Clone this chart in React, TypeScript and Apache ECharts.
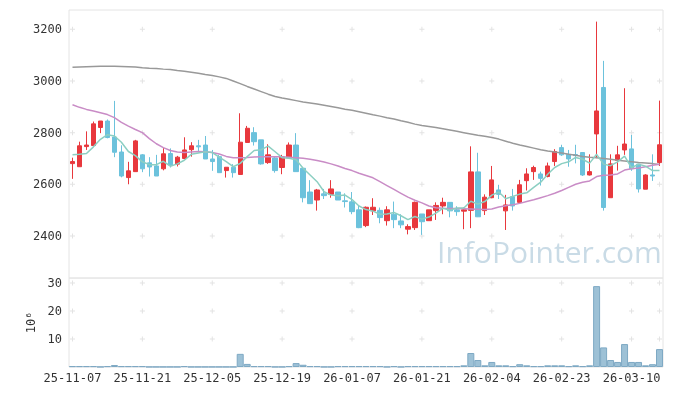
import React, { useEffect, useRef } from 'react';
import * as echarts from 'echarts';

const dates = [
  '25-11-07','25-11-10','25-11-11','25-11-12','25-11-13','25-11-14','25-11-17','25-11-18','25-11-19','25-11-20',
  '25-11-21','25-11-24','25-11-25','25-11-26','25-11-27','25-11-28','25-12-01','25-12-02','25-12-03','25-12-04',
  '25-12-05','25-12-08','25-12-09','25-12-10','25-12-11','25-12-12','25-12-15','25-12-16','25-12-17','25-12-18',
  '25-12-19','25-12-22','25-12-23','25-12-24','25-12-26','25-12-29','25-12-30','26-01-02','26-01-05','26-01-06',
  '26-01-07','26-01-08','26-01-09','26-01-12','26-01-13','26-01-14','26-01-15','26-01-16','26-01-19','26-01-20',
  '26-01-21','26-01-22','26-01-23','26-01-26','26-01-27','26-01-28','26-01-29','26-01-30','26-02-02','26-02-03',
  '26-02-04','26-02-05','26-02-06','26-02-09','26-02-10','26-02-11','26-02-12','26-02-13','26-02-19','26-02-20',
  '26-02-23','26-02-24','26-02-25','26-02-26','26-02-27','26-03-03','26-03-04','26-03-05','26-03-06','26-03-09',
  '26-03-10','26-03-11','26-03-12','26-03-13','26-03-16'
];

const opens = [
  2680,2668,2746,2750,2820,2845,2783,2725,2626,2649,
  2714,2683,2671,2660,2719,2678,2700,2734,2749,2752,
  2698,2707,2653,2666,2638,2762,2800,2772,2684,2702,
  2665,2703,2752,2662,2570,2539,2563,2561,2570,2536,
  2532,2501,2440,2497,2499,2459,2484,2458,2426,2432,
  2485,2459,2498,2516,2530,2501,2496,2499,2648,2498,
  2548,2578,2497,2552,2530,2614,2649,2640,2630,2688,
  2742,2716,2715,2723,2636,2795,2975,2548,2692,2733,
  2737,2678,2581,2636,2684
];
const closes = [
  2688,2749,2752,2834,2845,2781,2724,2632,2652,2768,
  2660,2667,2632,2718,2675,2705,2733,2749,2745,2698,
  2688,2645,2666,2645,2763,2817,2765,2679,2714,2653,
  2706,2752,2649,2548,2525,2578,2556,2582,2539,2533,
  2494,2432,2511,2511,2471,2501,2463,2443,2436,2530,
  2455,2501,2518,2530,2497,2494,2501,2648,2474,2550,
  2617,2561,2520,2516,2598,2640,2665,2623,2671,2727,
  2714,2698,2711,2636,2649,2884,2510,2679,2714,2756,
  2660,2582,2636,2632,2753
];
const lows = [
  2621,2668,2733,2749,2798,2778,2705,2627,2600,2649,
  2647,2630,2632,2654,2665,2669,2697,2707,2724,2698,
  2652,2645,2626,2626,2636,2761,2750,2676,2679,2645,
  2639,2701,2649,2530,2525,2498,2543,2548,2539,2510,
  2484,2430,2434,2481,2449,2440,2430,2430,2406,2423,
  2404,2459,2462,2484,2472,2478,2426,2430,2473,2481,
  2546,2543,2423,2498,2530,2576,2617,2595,2627,2671,
  2710,2668,2681,2632,2634,2701,2498,2548,2653,2714,
  2652,2568,2581,2613,2671
];
const highs = [
  2703,2765,2805,2843,2845,2851,2923,2751,2687,2772,
  2717,2705,2714,2740,2739,2710,2782,2763,2772,2787,
  2733,2714,2666,2678,2875,2826,2821,2772,2755,2707,
  2714,2762,2798,2662,2616,2582,2582,2616,2570,2565,
  2570,2517,2514,2546,2510,2515,2533,2484,2445,2533,
  2485,2501,2530,2548,2530,2515,2510,2747,2722,2561,
  2671,2598,2559,2582,2617,2662,2672,2649,2684,2736,
  2753,2733,2753,2723,2716,3230,3078,2716,2749,2972,
  2791,2678,2639,2716,2924
];

const ma5 = [
  2714,2716,2719,2745,2774,2792,2787,2763,2727,2711,
  2687,2676,2676,2689,2670,2679,2693,2716,2721,2726,
  2723,2705,2688,2668,2681,2707,2731,2734,2748,2726,
  2703,2701,2695,2662,2636,2610,2571,2558,2556,2558,
  2541,2516,2502,2496,2484,2485,2491,2478,2463,2475,
  2465,2473,2488,2507,2500,2508,2508,2534,2523,2533,
  2558,2570,2544,2553,2562,2567,2588,2608,2639,2665,
  2680,2687,2704,2697,2682,2716,2678,2672,2687,2709,
  2664,2678,2670,2653,2653
];
const ma20 = [
  2908,2898,2890,2884,2877,2870,2858,2840,2825,2812,
  2800,2777,2757,2742,2731,2725,2723,2725,2727,2726,
  2723,2717,2708,2703,2703,2704,2706,2707,2707,2707,
  2707,2705,2703,2701,2697,2692,2686,2679,2671,2661,
  2653,2643,2634,2625,2610,2595,2580,2565,2550,2538,
  2528,2516,2509,2507,2506,2506,2505,2504,2503,2502,
  2504,2512,2517,2521,2526,2533,2540,2548,2556,2565,
  2576,2588,2600,2608,2613,2630,2635,2636,2640,2655,
  2660,2663,2668,2674,2678
];
const ma60 = [
  3053,3054,3055,3056,3057,3057,3057,3056,3055,3054,
  3051,3049,3048,3046,3045,3041,3038,3034,3030,3025,
  3021,3016,3010,3000,2990,2979,2969,2959,2949,2940,
  2934,2929,2924,2919,2915,2911,2906,2901,2896,2891,
  2887,2881,2875,2869,2864,2858,2853,2846,2840,2833,
  2828,2824,2820,2815,2810,2805,2800,2795,2790,2786,
  2781,2775,2767,2759,2752,2746,2740,2734,2729,2725,
  2721,2716,2712,2708,2705,2703,2700,2697,2693,2690,
  2687,2684,2682,2680,2677
];

// volume in millions of shares
const volumes = [
  0.3,0.3,0.3,0.3,0.05,0.3,0.7,0.3,0.3,0.3,
  0.3,0.05,0.05,0.05,0.05,0.05,0.3,0.05,0.05,0.05,
  0.05,0.05,0.05,0.05,4.7,1.1,0.3,0.3,0.3,0.05,
  0.05,0.3,1.4,0.8,0.3,0.3,0.05,0.05,0.3,0.3,
  0.3,0.3,0.3,0.3,0.3,0.05,0.3,0.05,0.3,0.3,
  0.3,0.3,0.3,0.3,0.3,0.3,0.6,5.0,2.5,0.6,
  1.8,0.6,0.6,0.3,1.0,0.6,0.3,0.3,0.6,0.6,
  0.6,0.3,0.6,0.3,0.6,28.9,7.0,2.5,1.8,8.2,
  1.8,1.8,0.6,1.0,6.4
];

const priceTicks = [2400, 2600, 2800, 3000, 3200];
const volumeTicks = [10, 20, 30];
const crossCategories = [0, 10, 20, 30, 40, 50, 60, 70, 80, 84.35];

const UP = '#e8383d';
const DOWN = '#6cc2dc';
const LABEL_FONT = 'DejaVu Sans Mono';

export default function App() {
  const ref = useRef<HTMLDivElement>(null);
  useEffect(() => {
    if (!ref.current) return;
    const chart = echarts.init(ref.current, null, { renderer: 'svg' });
    const candles = dates.map((_, i) => [opens[i], closes[i], lows[i], highs[i]]);
    const priceCross: number[][] = [];
    const volCross: number[][] = [];
    crossCategories.forEach((c) => {
      priceTicks.forEach((v) => priceCross.push([c, v]));
      volumeTicks.forEach((v) => volCross.push([c, v]));
    });
    const crossSymbol = 'path://M2,0H3V2H5V3H3V5H2V3H0V2H2Z';
    const plain = (v: number) => String(v);
    chart.setOption({
      animation: false,
      textStyle: { fontFamily: LABEL_FONT },
      grid: [
        { left: 69, top: 10, width: 594, height: 268, show: true, borderColor: '#e4e4e4', borderWidth: 1, backgroundColor: 'transparent' },
        { left: 69, top: 278, width: 594, height: 89, show: true, borderColor: '#e4e4e4', borderWidth: 1, backgroundColor: 'transparent' },
      ],
      xAxis: [
        {
          type: 'category', gridIndex: 0, data: dates, boundaryGap: true,
          axisLine: { show: false }, axisTick: { show: false }, axisLabel: { show: false }, splitLine: { show: false },
        },
        {
          type: 'category', gridIndex: 1, data: dates, boundaryGap: true,
          axisLine: { show: false }, axisTick: { show: false }, splitLine: { show: false },
          axisLabel: { interval: 9, color: '#333', fontSize: 12, margin: 5, fontFamily: LABEL_FONT },
        },
      ],
      yAxis: [
        {
          type: 'value', gridIndex: 0, min: 2237, max: 3275,
          axisLine: { show: false }, axisTick: { show: false }, splitLine: { show: false },
          axisLabel: { customValues: priceTicks, formatter: plain, color: '#333', fontSize: 12, margin: 7, fontFamily: LABEL_FONT },
        },
        {
          type: 'value', gridIndex: 1, min: 0, max: 31.8,
          axisLine: { show: false }, axisTick: { show: false }, splitLine: { show: false },
          axisLabel: { customValues: volumeTicks, formatter: plain, color: '#333', fontSize: 12, margin: 7, fontFamily: LABEL_FONT },
          name: '10⁶', nameLocation: 'middle', nameRotate: 90, nameGap: 28,
          nameTextStyle: { color: '#333', fontSize: 12, fontFamily: LABEL_FONT },
        },
      ],
      graphic: [
        {
          type: 'text', left: 437, top: 236, z: 0, silent: true,
          style: { text: 'InfoPointer.com', fontSize: 30, fontFamily: 'Open Sans', fill: '#c9dbe6' },
        },
      ],
      series: [
        {
          type: 'scatter', xAxisIndex: 0, yAxisIndex: 0, data: priceCross, symbol: crossSymbol, symbolSize: 5,
          itemStyle: { color: '#dcdcdc' }, silent: true, z: 1,
        },
        {
          type: 'scatter', xAxisIndex: 1, yAxisIndex: 1, data: volCross, symbol: crossSymbol, symbolSize: 5,
          itemStyle: { color: '#dcdcdc' }, silent: true, z: 1,
        },
        {
          type: 'candlestick', xAxisIndex: 0, yAxisIndex: 0, data: candles, barWidth: '70%',
          itemStyle: { color: UP, color0: DOWN, borderColor: UP, borderColor0: DOWN, borderWidth: 1 },
          z: 3,
        },
        {
          type: 'line', xAxisIndex: 0, yAxisIndex: 0, data: ma60, showSymbol: false, symbol: 'none',
          lineStyle: { color: '#999999', width: 1.5 }, z: 4,
        },
        {
          type: 'line', xAxisIndex: 0, yAxisIndex: 0, data: ma20, showSymbol: false, symbol: 'none',
          lineStyle: { color: '#c98cc6', width: 1.5 }, z: 4,
        },
        {
          type: 'line', xAxisIndex: 0, yAxisIndex: 0, data: ma5, showSymbol: false, symbol: 'none',
          lineStyle: { color: '#8ccfc2', width: 1.5 }, z: 4,
        },
        {
          type: 'bar', xAxisIndex: 1, yAxisIndex: 1, data: volumes, barWidth: '100%',
          itemStyle: { color: '#9dc1d6', borderColor: '#7ea9c4', borderWidth: 1 }, z: 3,
        },
      ],
    });
    return () => chart.dispose();
  }, []);
  return <div ref={ref} style={{ position: 'fixed', left: 0, top: 0, width: 673, height: 396 }} />;
}
